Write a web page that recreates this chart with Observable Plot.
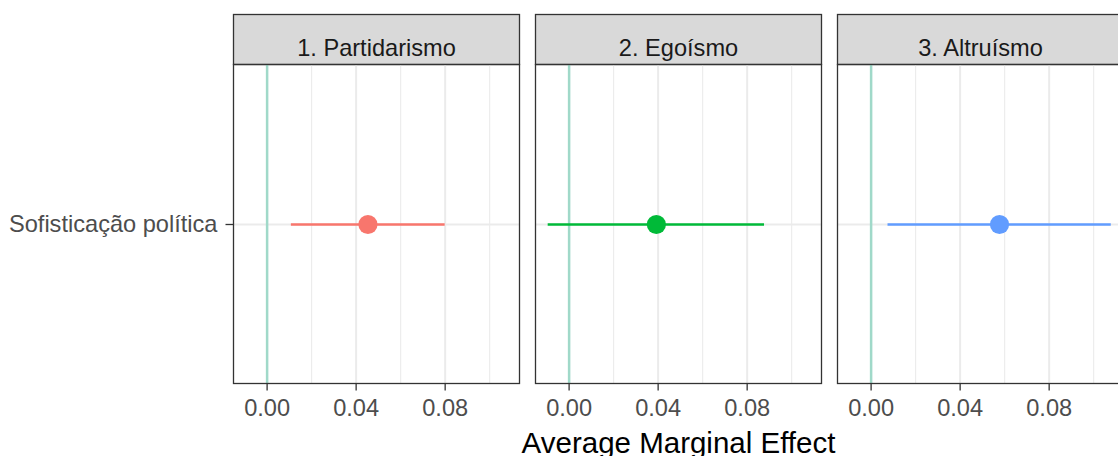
<!DOCTYPE html>
<html>
<head>
<meta charset="utf-8">
<script src="https://cdn.jsdelivr.net/npm/d3@7"></script>
<script src="https://cdn.jsdelivr.net/npm/@observablehq/plot@0.6"></script>
<style>
  html, body { margin: 0; padding: 0; background: white; overflow: hidden; }
  #chart svg { display: block; }
  .xtitle {
    margin-left: 233px; width: 891px; text-align: center;
    font-family: "Liberation Sans", Arial, sans-serif;
    font-size: 29.5px; line-height: 29.5px; color: #000; white-space: nowrap;
  }
</style>
</head>
<body>
<div id="chart"></div>
<div class="xtitle">Average Marginal Effect</div>
<script>
// Average marginal effect of political sophistication, by outcome
const panels = ["1. Partidarismo", "2. Egoísmo", "3. Altruísmo"];
const term = "Sofisticação política";
const estimates = [0.0453, 0.0392, 0.0577];
const lowers = [0.0109, -0.0094, 0.0076];
const uppers = [0.0800, 0.0878, 0.1079];
const panelColors = ["#F8766D", "#00BA38", "#619CFF"];
const majorTicks = [0, 0.04, 0.08];
const minorTicks = [0.02, 0.06, 0.10];
const xDomain = [-0.0151, 0.1134];

const rows = panels.map((panel, i) => ({
  panel, term, estimate: estimates[i], lower: lowers[i], upper: uppers[i]
}));

const font = "'Liberation Sans', Arial, sans-serif";

const chart = Plot.plot({
  width: 1124,
  height: 428,
  marginLeft: 233,
  marginRight: 0,
  marginTop: 64,
  marginBottom: 45,
  style: { fontFamily: font, background: "white", maxWidth: "none", overflow: "visible" },
  facet: { data: rows, x: "panel" },
  fx: { domain: panels, paddingInner: 0.052, paddingOuter: 0, axis: null, label: null },
  x: { domain: xDomain, axis: null },
  y: { domain: [term], axis: null },
  color: { domain: panels, range: panelColors },
  marks: [
    // strip above each panel
    Plot.frame({ fill: "#d9d9d9", stroke: "#333333", strokeWidth: 1.3, insetTop: -50, insetBottom: 319 }),
    Plot.text(rows, { text: "panel", frameAnchor: "top", dy: -25, fontSize: 23.6, fill: "#1a1a1a" }),
    // grid, repeated in every panel
    Plot.ruleX(minorTicks, { stroke: "#ebebeb", strokeWidth: 1.1, facet: false }),
    Plot.ruleX(majorTicks, { stroke: "#ebebeb", strokeWidth: 2, facet: false }),
    Plot.gridY({ stroke: "#ebebeb", strokeOpacity: 1, strokeWidth: 2 }),
    // reference line at zero
    Plot.ruleX([0], { stroke: "#a0d9c9", strokeWidth: 2.5 }),
    // confidence intervals and point estimates
    Plot.ruleY(rows, { x1: "lower", x2: "upper", y: "term", stroke: "panel", strokeWidth: 2.4 }),
    Plot.dot(rows, { x: "estimate", y: "term", fill: "panel", r: 9.6 }),
    // panel border
    Plot.frame({ stroke: "#333333", strokeWidth: 1.3 }),
    // axes
    Plot.axisX(majorTicks, {
      tickFormat: d3.format(".2f"), tickSize: 7.5, tickPadding: 7.8, fontSize: 23.6,
      stroke: "#333333", fill: "#4d4d4d", strokeWidth: 1.3, label: null, facet: false
    }),
    Plot.axisY({
      tickSize: 7.5, tickPadding: 8.5, fontSize: 23.6,
      stroke: "#333333", fill: "#4d4d4d", strokeWidth: 1.3, label: null, facetAnchor: "left"
    })
  ]
});

document.getElementById("chart").appendChild(chart);
</script>
</body>
</html>
